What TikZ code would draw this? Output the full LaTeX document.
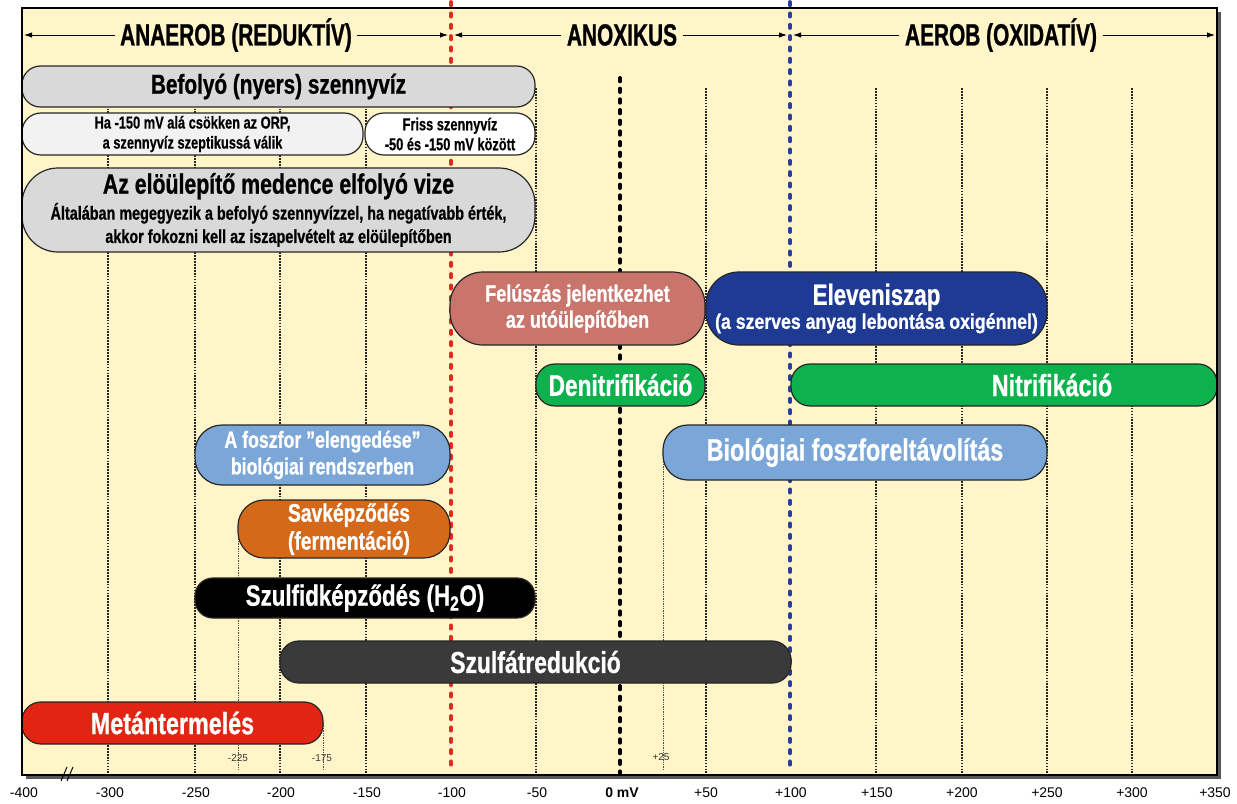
\documentclass[tikz,border=0pt]{standalone}
\usepackage{fontspec}
\setmainfont{Liberation Sans}
\newfontfamily\condH{Liberation Sans}[FakeStretch=0.68, BoldFeatures={FakeBold=0.8}]
\newfontfamily\condA{Liberation Sans}[FakeStretch=0.76, BoldFeatures={FakeBold=0.8}]
\newfontfamily\condB{Liberation Sans}[FakeStretch=0.74, BoldFeatures={FakeBold=0.5}]
\newfontfamily\condC{Liberation Sans}[FakeStretch=0.83, BoldFeatures={FakeBold=0.6}]
\usetikzlibrary{arrows.meta}
\definecolor{bgc}{HTML}{FFF5C8}
\definecolor{cgray}{HTML}{D9D9D9}
\definecolor{clight}{HTML}{F2F2F2}
\definecolor{crose}{HTML}{C9756C}
\definecolor{cnavy}{HTML}{1F3A93}
\definecolor{cgreen}{HTML}{0DB24C}
\definecolor{clblue}{HTML}{7BA6D8}
\definecolor{corange}{HTML}{D4691A}
\definecolor{cdark}{HTML}{3A3A3A}
\definecolor{cred}{HTML}{E22412}
\definecolor{lred}{HTML}{E8281E}
\definecolor{lblue}{HTML}{2A3EA0}
\newcommand\pill[7]{%
 \pgfmathsetmacro\pw{(#4-#2)*0.75}%
 \pgfmathsetmacro\ph{(#5-#3)*0.75}%
 \pgfmathsetmacro\pr{min(\ph*0.45,27)}%
 \node[pillbox,#6,minimum width=\pw pt,minimum height=\ph pt,rounded corners=\pr pt] (#1) at ({(#2+#4)/2},{(#3+#5)/2}) {#7};}
\tikzset{
 pillbox/.style={draw=black!85, line width=0.9pt, inner sep=0pt, align=center},
 tw/.style={text=white},
 fA/.style={font=\condA\bfseries\fontsize{#1}{#1}\selectfont},
 gridline/.style={line width=1pt, dash pattern=on 1.3pt off 0.9pt, black!85},
 thinline/.style={line width=0.5pt, dash pattern=on 1pt off 0.8pt, black!70},
 hdr/.style={font=\condH\bfseries\fontsize{23}{26}\selectfont, inner sep=4pt},
 axl/.style={font=\fontsize{10.5}{12}\selectfont, inner sep=1pt},
 sml/.style={font=\fontsize{7.5}{9}\selectfont, inner sep=1pt, text=black!80},
 harrow/.style={line width=0.6pt, -{Latex[length=6pt,width=4pt]}},
 zoneline/.style={line width=2.8pt, dash pattern=on 2.5pt off 6pt, line cap=round},
}
\begin{document}
\begin{tikzpicture}[x=0.75pt,y=-0.75pt]
\useasboundingbox (0,0) rectangle (1237,803);
\fill[white] (0,0) rectangle (1237,803);
\fill[bgc] (22,8) rectangle (1217,775);
% grid lines
\foreach \x in {108,195,280,366,536,706,876,962,1047,1132}
  \draw[gridline] (\x,88) -- (\x,775);
\draw[thinline] (238,529) -- (238,770);
\draw[thinline] (323,723) -- (323,770);
\draw[thinline] (663,452) -- (663,770);
\draw[zoneline, black, line width=3pt, dash pattern=on 2.5pt off 5.5pt] (620,78) -- (620,775);
\draw[zoneline, lred] (451,2) -- (451,770);
\draw[zoneline, lblue] (790,2) -- (790,770);
% header
\node[hdr] (hA) at (236,35) {ANAEROB (REDUKTÍV)};
\node[hdr] (hB) at (622,35) {ANOXIKUS};
\node[hdr] (hC) at (1001,35) {AEROB (OXIDATÍV)};
\coordinate (a1) at (24,35); \coordinate (a2) at (448,35);
\coordinate (b1) at (454,35); \coordinate (b2) at (787,35);
\coordinate (c1) at (793,35); \coordinate (c2) at (1215,35);
\draw[harrow] (hA.west) -- (a1);
\draw[harrow] (hA.east) -- (a2);
\draw[harrow] (hB.west) -- (b1);
\draw[harrow] (hB.east) -- (b2);
\draw[harrow] (hC.west) -- (c1);
\draw[harrow] (hC.east) -- (c2);
% boxes
\pill{befoly}{22}{66}{535}{107}{fill=cgray,fA=20.5}{Befolyó (nyers) szennyvíz}
\pill{ha}{22}{113}{363}{155}{fill=clight,font=\condB\bfseries\fontsize{13}{15}\selectfont}{Ha -150 mV alá csökken az ORP,\\a szennyvíz szeptikussá válik}
\pill{friss}{365}{113}{535}{155}{fill=white,font=\condB\bfseries\fontsize{13}{15}\selectfont}{Friss szennyvíz\\-50 és -150 mV között}
\pill{az}{22}{168}{535}{252}{fill=cgray,font=\condA\bfseries\fontsize{14.2}{17.5}\selectfont}{{\fontsize{21}{24}\selectfont Az elöülepítő medence elfolyó vize}\\[2pt]Általában megegyezik a befolyó szennyvízzel, ha negatívabb érték,\\akkor fokozni kell az iszapelvételt az elöülepítőben}
\pill{felusz}{450}{272}{705}{345}{fill=crose,tw,font=\condA\bfseries\fontsize{17.8}{19.5}\selectfont}{Felúszás jelentkezhet\\az utóülepítőben}
\pill{elev}{706}{272}{1047}{345}{fill=cnavy,tw,font=\condC\bfseries\fontsize{16}{18}\selectfont}{{\condA\fontsize{22}{26}\selectfont Eleveniszap}\\(a szerves anyag lebontása oxigénnel)}
\pill{denit}{536}{364}{705}{406}{fill=cgreen,tw,fA=22.4}{Denitrifikáció}
\pill{nitri}{791}{364}{1217}{406}{fill=cgreen}{}
\node[tw,fA=23] (nitriT) at (1052,385) {Nitrifikáció};
\pill{foszf}{195}{425}{450}{485}{fill=clblue,tw,font=\condA\bfseries\fontsize{17.5}{20}\selectfont}{A foszfor ”elengedése”\\biológiai rendszerben}
\pill{bio}{663}{425}{1047}{480}{fill=clblue,tw,fA=23}{Biológiai foszforeltávolítás}
\pill{sav}{238}{500}{450}{558}{fill=corange}{}
\node[tw,align=center,font=\condA\bfseries\fontsize{19}{21}\selectfont] (savT) at (349,529) {Savképződés\\(fermentáció)};
\pill{szulfid}{195}{578}{535}{618}{fill=black,tw,fA=22}{Szulfidképződés (H\textsubscript{2}O)}
\pill{szulfat}{280}{641}{791}{683}{fill=cdark,tw,fA=22.6}{Szulfátredukció}
\pill{metan}{22}{702}{323}{744}{fill=cred,tw,fA=23}{Metántermelés}
% frame
\draw[line width=2.5pt, black!65] (1219.5,12) -- (1219.5,777.5) -- (26,777.5);
\draw[line width=1.6pt] (22,8) rectangle (1217,775);
\draw[line width=0.7pt] (61,781) -- (67,767) (67,781) -- (73,767);
% small labels
\node[sml] (l225) at (238,758) {-225};
\node[sml] (l175) at (322,758) {-175};
\node[sml] (l25) at (661,757) {+25};
% axis labels
\node[axl] (x1) at (24,793) {-400};
\node[axl] (x2) at (110,793) {-300};
\node[axl] (x3) at (196,793) {-250};
\node[axl] (x4) at (281,793) {-200};
\node[axl] (x5) at (367,793) {-150};
\node[axl] (x6) at (452,793) {-100};
\node[axl] (x7) at (537,793) {-50};
\node[axl,font=\bfseries\fontsize{10.5}{12}\selectfont] (x8) at (622,793) {0 mV};
\node[axl] (x9) at (706,793) {+50};
\node[axl] (x10) at (791,793) {+100};
\node[axl] (x11) at (877,793) {+150};
\node[axl] (x12) at (962,793) {+200};
\node[axl] (x13) at (1047,793) {+250};
\node[axl] (x14) at (1132,793) {+300};
\node[axl] (x15) at (1215,793) {+350};
\end{tikzpicture}
\end{document}
